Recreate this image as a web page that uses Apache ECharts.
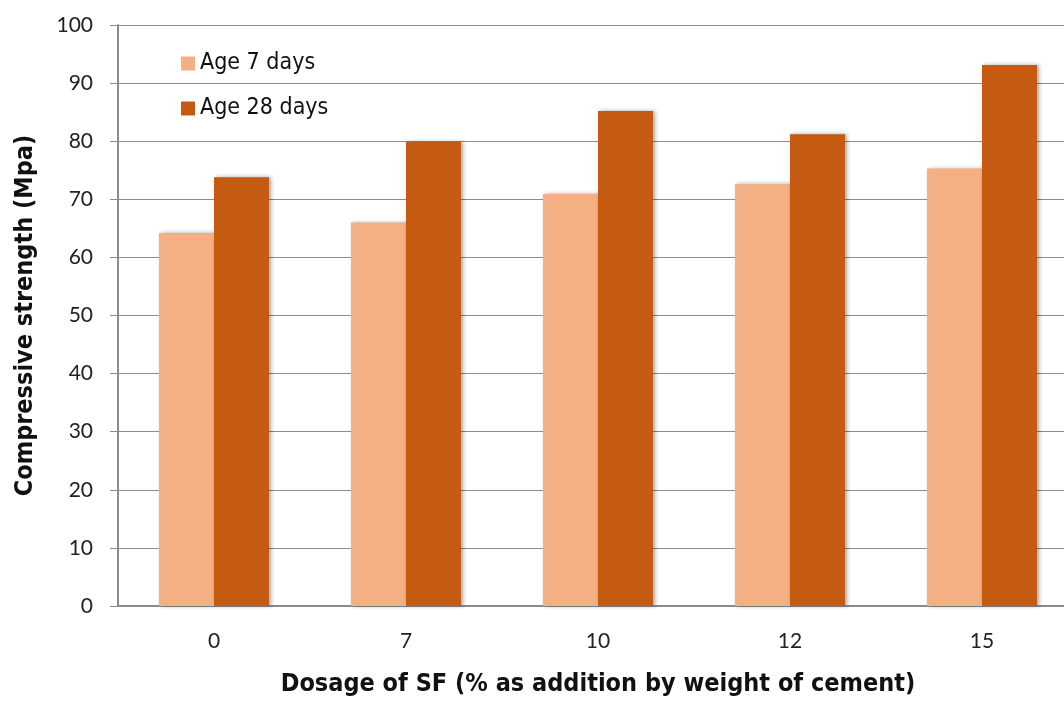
<!DOCTYPE html>
<html>
<head>
<meta charset="utf-8">
<style>
  html, body { margin: 0; padding: 0; background: #fff; overflow: hidden; }
  /* the plot in the reference runs past the right edge of the picture */
  #chart { width: 1078px; height: 702px; }
</style>
<script src="https://cdn.jsdelivr.net/npm/echarts@6/dist/echarts.min.js"></script>
</head>
<body>
<div id="chart"></div>
<script>
// data
var dosages = ['0', '7', '10', '12', '15'];
var age7 = [64.2, 66.0, 70.9, 72.6, 75.3];
var age28 = [73.8, 79.9, 85.2, 81.2, 93.1];
var yTicks = [0, 10, 20, 30, 40, 50, 60, 70, 80, 90, 100];

var narrow = "'Liberation Sans Narrow', 'Arial Narrow', 'DejaVu Sans Condensed', sans-serif";
var tickFont = "Lato, 'Open Sans', sans-serif";
var gray = '#8c8c8c';

var myChart = echarts.init(document.getElementById('chart'));

var barShadow = {
    shadowBlur: 4,
    shadowColor: 'rgba(0,0,0,0.35)',
    shadowOffsetX: 2,
    shadowOffsetY: 0
};

option = {
    animation: false,
    backgroundColor: '#fff',
    grid: { left: 118, top: 25, right: 0, bottom: 95, containLabel: false },
    legend: {
        orient: 'vertical',
        left: 176,
        top: 47,
        itemWidth: 14,
        itemHeight: 14,
        itemGap: 22,
        icon: 'rect',
        textStyle: { fontFamily: narrow, fontSize: 23, color: '#111' },
        data: ['Age 7 days', 'Age 28 days']
    },
    xAxis: {
        type: 'category',
        data: dosages,
        name: 'Dosage of SF (% as addition by weight of cement)',
        nameLocation: 'middle',
        nameGap: 66,
        nameTextStyle: { fontFamily: narrow, fontSize: 25, fontWeight: 'bold', color: '#111' },
        axisLine: { lineStyle: { color: gray, width: 2 } },
        axisTick: { alignWithLabel: true, length: 8, lineStyle: { color: gray, width: 1 } },
        axisLabel: { margin: 25, fontFamily: tickFont, fontSize: 21, color: '#222' }
    },
    yAxis: {
        type: 'value',
        min: yTicks[0],
        max: yTicks[yTicks.length - 1],
        interval: 10,
        name: 'Compressive strength (Mpa)',
        nameLocation: 'middle',
        nameGap: 80,
        nameTextStyle: { fontFamily: narrow, fontSize: 25, fontWeight: 'bold', color: '#111' },
        axisLine: { show: true, lineStyle: { color: gray, width: 2 } },
        axisTick: { show: true, length: 8, lineStyle: { color: gray, width: 1 } },
        axisLabel: { margin: 25, fontFamily: tickFont, fontSize: 21, color: '#222' },
        splitLine: { lineStyle: { color: gray, width: 1 } }
    },
    series: [
        {
            name: 'Age 7 days',
            type: 'bar',
            data: age7,
            barWidth: 55,
            barGap: '0%',
            itemStyle: Object.assign({ color: '#F4AF83' }, barShadow)
        },
        {
            name: 'Age 28 days',
            type: 'bar',
            data: age28,
            barWidth: 55,
            barGap: '0%',
            itemStyle: Object.assign({ color: '#C55A11' }, barShadow)
        }
    ]
};
myChart.setOption(option);
</script>
</body>
</html>
